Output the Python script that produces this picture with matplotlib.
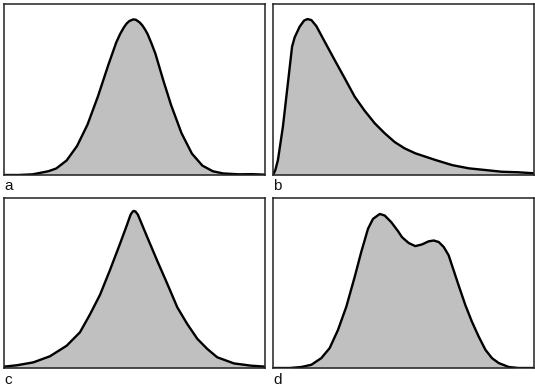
import matplotlib
matplotlib.use('Agg')
import matplotlib.pyplot as plt

# curve readings: x in % of panel width, y as share of panel height
a_x = [0, 5.5, 11, 17, 20, 24, 28, 32, 36, 40, 43, 44.5, 46, 47, 48, 49.5, 50.5, 52, 53, 54, 55, 56.5, 58, 61, 64, 68, 72, 76, 80, 84, 90, 95, 100]
a_y = [0, 0, 0.004, 0.022, 0.038, 0.085, 0.17, 0.295, 0.46, 0.645, 0.775, 0.825, 0.865, 0.886, 0.9, 0.91, 0.908, 0.892, 0.875, 0.852, 0.825, 0.77, 0.71, 0.555, 0.41, 0.245, 0.125, 0.055, 0.022, 0.009, 0.004, 0.005, 0.002]

b_x = [0, 0.9, 1.9, 3.8, 5.7, 7.3, 8.3, 10.2, 11.9, 13.2, 14.7, 16.6, 19.8, 23.6, 27.5, 31.3, 35.1, 39.0, 42.8, 46.6, 50.4, 54.5, 62.2, 68.6, 75.0, 81.4, 87.7, 93.9, 100]
b_y = [0, 0.029, 0.088, 0.283, 0.536, 0.75, 0.805, 0.867, 0.903, 0.912, 0.906, 0.871, 0.78, 0.673, 0.565, 0.458, 0.376, 0.302, 0.244, 0.193, 0.156, 0.127, 0.088, 0.058, 0.039, 0.029, 0.019, 0.016, 0.01]

c_x = [0, 4.9, 11.2, 17.6, 24.0, 29.1, 32.9, 36.8, 40.6, 44.4, 47.0, 48.5, 49.3, 49.8, 50.4, 51.3, 54.9, 58.7, 62.6, 66.4, 70.2, 74.1, 77.9, 81.7, 88.1, 94.5, 100]
c_y = [0.008, 0.016, 0.033, 0.069, 0.131, 0.21, 0.314, 0.431, 0.576, 0.729, 0.837, 0.902, 0.92, 0.924, 0.92, 0.902, 0.769, 0.631, 0.494, 0.357, 0.259, 0.171, 0.112, 0.063, 0.027, 0.014, 0.008]

d_x = [0, 6.4, 10.9, 14.7, 18.5, 21.7, 24.9, 28.1, 31.3, 33.8, 36.4, 38.3, 40.9, 42.8, 45.3, 47.9, 49.4, 52.0, 54.5, 57.1, 59.6, 61.6, 63.5, 65.4, 67.3, 69.2, 71.1, 73.7, 76.2, 78.8, 81.4, 83.9, 86.5, 90.3, 94.1, 100]
d_y = [0, 0, 0.006, 0.019, 0.058, 0.117, 0.224, 0.361, 0.536, 0.682, 0.819, 0.877, 0.906, 0.897, 0.858, 0.805, 0.77, 0.735, 0.717, 0.727, 0.745, 0.75, 0.741, 0.712, 0.663, 0.575, 0.487, 0.37, 0.273, 0.185, 0.107, 0.058, 0.029, 0.006, 0, 0]

labels = ['a', 'b', 'c', 'd']
curves = [(a_x, a_y), (b_x, b_y), (c_x, c_y), (d_x, d_y)]

fig = plt.figure(figsize=(5.35, 3.88), dpi=100)
W, H = 535.0, 388.0
# panel boxes in pixels: left, top, right, bottom, label baseline
boxes = [(4, 4, 265, 175, 190), (273, 4, 534, 175, 190),
         (4, 198, 265, 368, 384), (273, 198, 534, 368, 384)]

for (x, y), lab, (l, t, r, b, lb) in zip(curves, labels, boxes):
    ax = fig.add_axes([l / W, (H - b) / H, (r - l) / W, (b - t) / H])
    ax.fill_between(x, 0, y, color='#c0c0c0', lw=0)
    ax.plot(x, y, color='black', lw=1.7, solid_joinstyle='round')
    ax.set_xlim(0, 100)
    ax.set_ylim(0, 1)
    ax.set_xticks([])
    ax.set_yticks([])
    for s in ax.spines.values():
        s.set_linewidth(1.1)
        s.set_color('#222222')
    fig.text(l / W, (H - lb) / H, lab, ha='left', va='baseline',
             fontsize=11, family='Liberation Sans', color='#111111')

fig.savefig('out.png', dpi=100)
